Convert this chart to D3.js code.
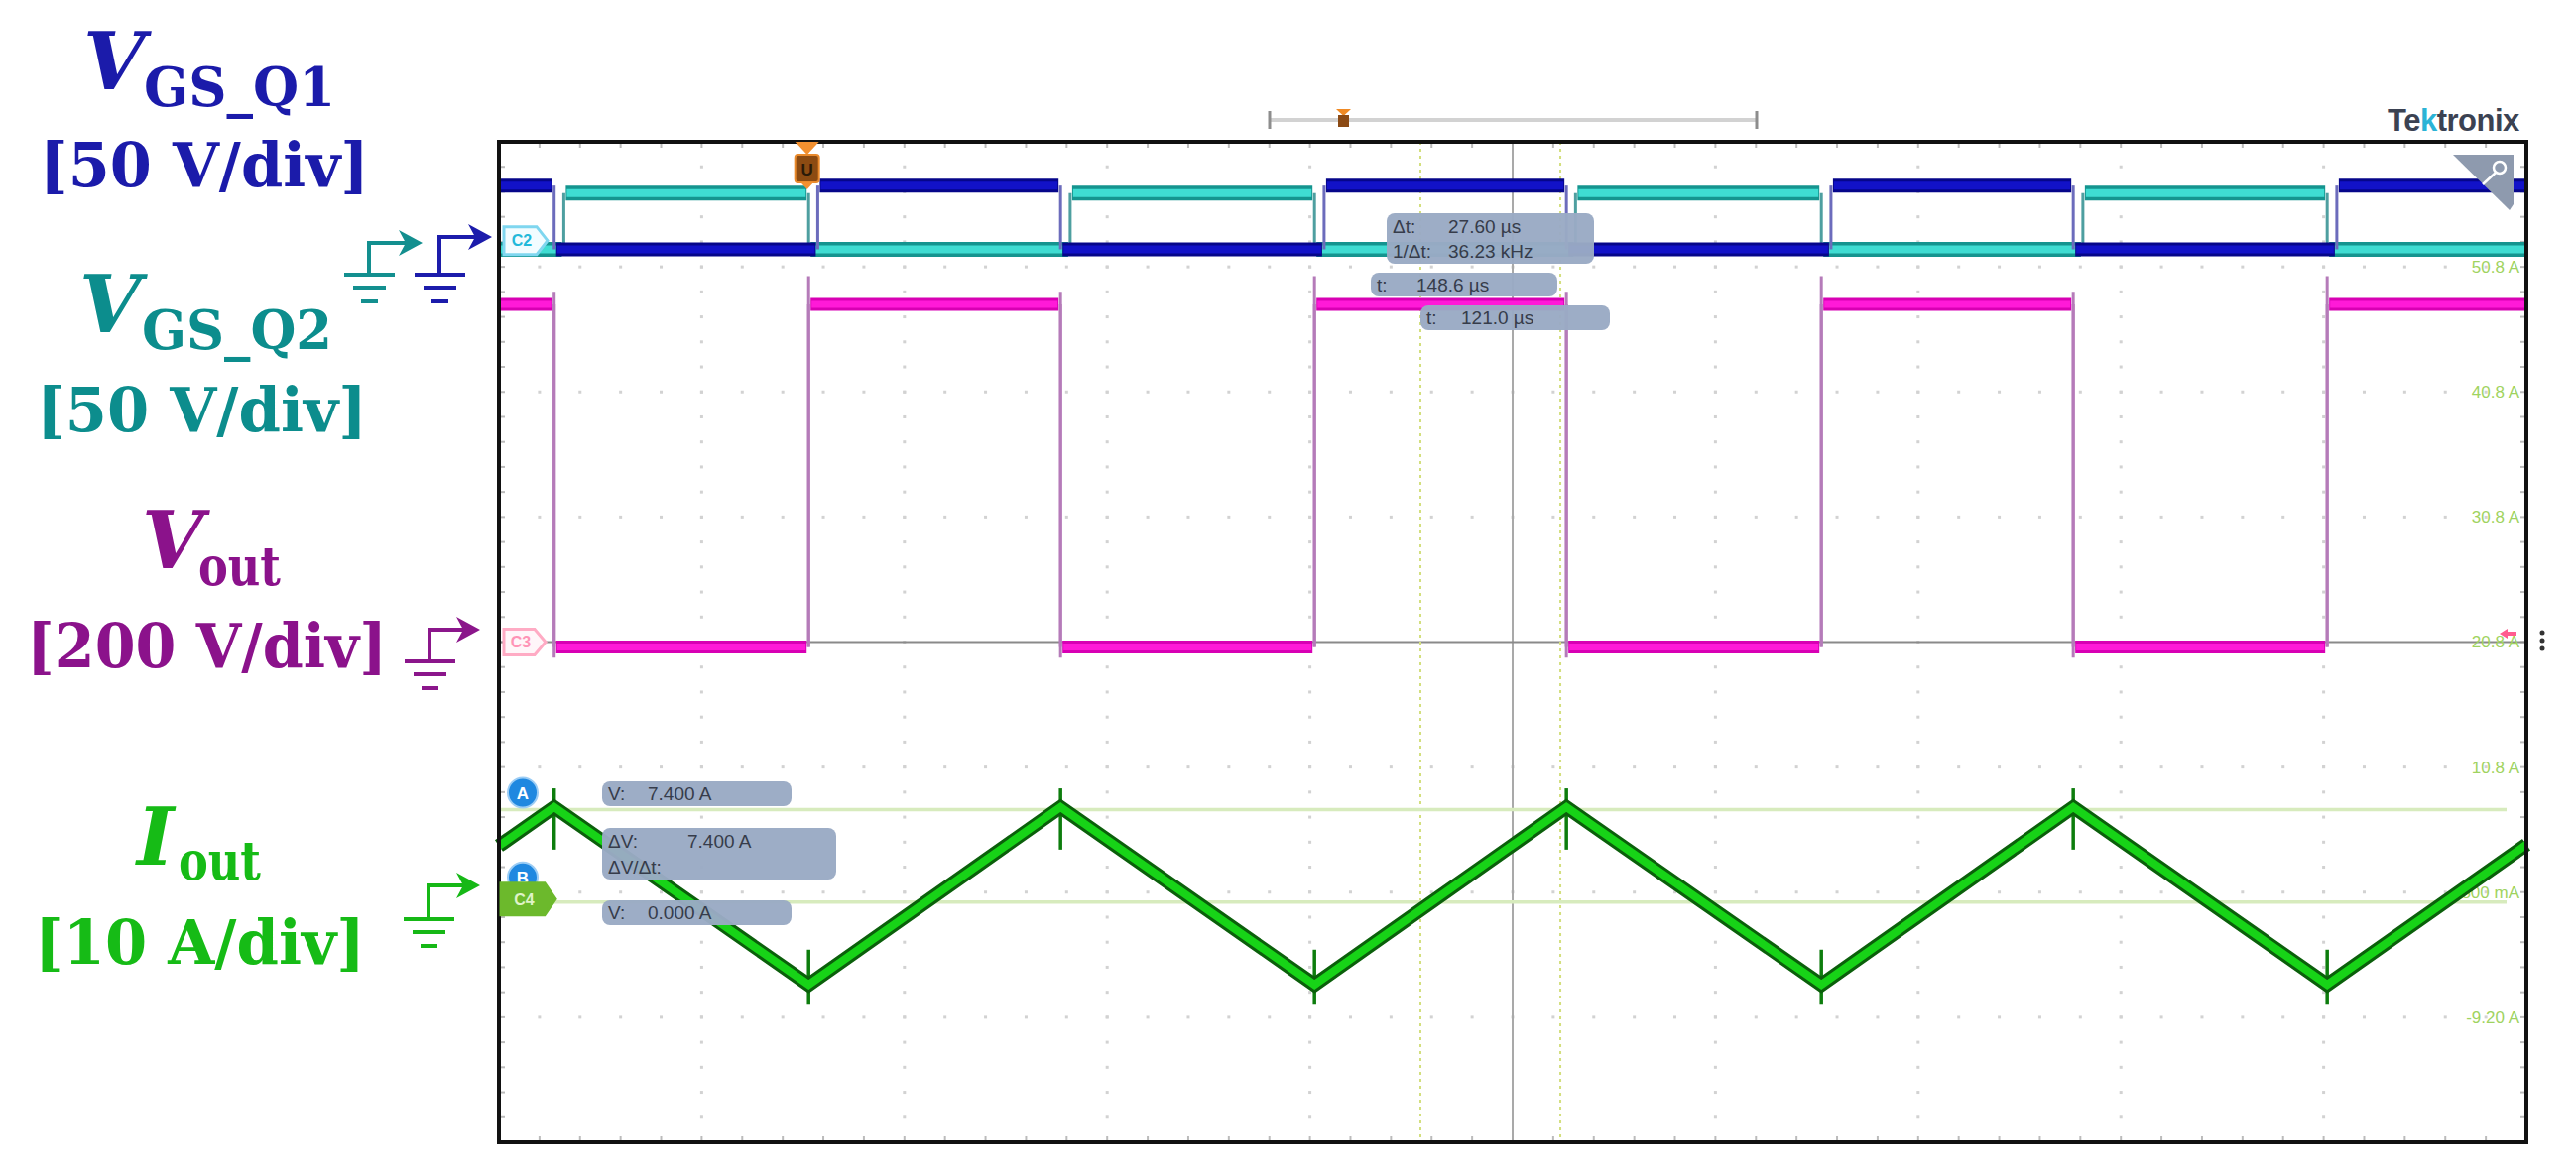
<!DOCTYPE html>
<html><head><meta charset="utf-8">
<script src="https://cdn.jsdelivr.net/npm/d3@7"></script>
<style>html,body{margin:0;padding:0;background:#fff;overflow:hidden}svg{display:block}</style>
</head><body>
<svg id="chart" width="2597" height="1183"></svg>
<script>
// ---------------- DATA ----------------
// time axis: 10 divisions x 40 µs
const timeDomain = [0, 400];
const timeGrid = [0, 40, 80, 120, 160, 200, 240, 280, 320, 360, 400];
// Iout scale labels shown at right (A)
const currentTicks = [50.8, 40.8, 30.8, 20.8, 10.8, 0.8, -9.2];
const currentTickLabels = ["50.8 A", "40.8 A", "30.8 A", "20.8 A", "10.8 A", "800 mA", "-9.20 A"];

// VGS_Q1 (V): switching instants (µs) and level held in each interval
const q1Times  = [0, 10.9, 62.9, 110.8, 162.8, 210.6, 262.8, 310.6, 362.6, 400];
const q1Levels = [21, -4.5, 21, -4.5, 21, -4.5, 21, -4.5, 21];
// VGS_Q2 (V)
const q2Times  = [0, 12.8, 61.1, 112.7, 160.9, 212.4, 260.9, 312.5, 360.7, 400];
const q2Levels = [-4.5, 18, -4.5, 18, -4.5, 18, -4.5, 18, -4.5];
// Vout (V)
const voutTimes  = [0, 10.9, 61.1, 110.8, 160.9, 210.6, 260.9, 310.6, 360.7, 400];
const voutLevels = [540, -8, 540, -8, 540, -8, 540, -8, 540];
const voutEdgeMax = [560, 585, 560, 585, 560, 585, 560, 585];
const voutEdgeMin = [-25, -8, -25, -8, -25, -8, -25, -8];
// Iout (A): triangle vertices
const iTimes  = [0, 10.9, 61.1, 110.8, 160.9, 210.6, 260.9, 310.6, 360.7, 400];
const iValues = [4.5, 7.6, -6.6, 7.6, -6.6, 7.6, -6.6, 7.6, -6.6, 4.6];
const iSpikeHigh = [9.1, -3.8, 9.1, -3.8, 9.1, -3.8, 9.1, -3.8];
const iSpikeLow  = [4.2, -8.2, 4.2, -8.2, 4.2, -8.2, 4.2, -8.2];

// trigger position on screen (µs) and cursors (relative to trigger)
const triggerTime = 60.8;
const timeCursors = [121.0, 148.6];     // µs after trigger
const currentCursors = [7.4, 0.0];      // A

const readTop = [["Δt:", "27.60 µs"], ["1/Δt:", "36.23 kHz"]];
const readT1 = ["t:", "148.6 µs"];
const readT2 = ["t:", "121.0 µs"];
const readVA = ["V:", "7.400 A"];
const readDV = [["ΔV:", "7.400 A"], ["ΔV/Δt:", ""]];
const readVB = ["V:", "0.000 A"];

// ---------------- LAYOUT ----------------
const svg = d3.select("#chart");
const box = {l: 503, r: 2547, t: 143, b: 1152};
const x = d3.scaleLinear().domain(timeDomain).range([box.l, box.r]);
const yDiv = d3.scaleLinear().domain([0, 8]).range([box.b, box.t]);
const yI = d3.scaleLinear().domain([-19.2, 60.8]).range([box.b, box.t]);
const yGate = d3.scaleLinear().domain([0, 50]).range([yDiv(7.23), yDiv(8.23)]);
const yVout = d3.scaleLinear().domain([0, 200]).range([yDiv(4), yDiv(5)]);

svg.append("rect").attr("width", 2597).attr("height", 1183).attr("fill", "#fff");

// ---- grid ----
const grid = svg.append("g");
const minorY = d3.range(0, 8.0001, 0.2);
timeGrid.slice(1, -1).forEach(t => {
  if (t === 200) return;
  minorY.forEach(d => grid.append("rect").attr("x", x(t) - 1.5).attr("y", yDiv(d) - 1.5)
    .attr("width", 3).attr("height", 3).attr("fill", "#d2d2d2"));
});
const minorT = d3.range(0, 400.001, 8);
d3.range(1, 8).forEach(j => {
  if (j === 4) return;
  minorT.forEach(t => grid.append("rect").attr("x", x(t) - 1.5).attr("y", yDiv(j) - 1.5)
    .attr("width", 3).attr("height", 3).attr("fill", "#d2d2d2"));
});
// border minor ticks
minorT.forEach(t => {
  grid.append("line").attr("x1", x(t)).attr("x2", x(t)).attr("y1", box.t).attr("y2", box.t + 6).attr("stroke", "#bbb").attr("stroke-width", 2);
  grid.append("line").attr("x1", x(t)).attr("x2", x(t)).attr("y1", box.b - 6).attr("y2", box.b).attr("stroke", "#bbb").attr("stroke-width", 2);
});
minorY.forEach(d => {
  grid.append("line").attr("x1", box.l).attr("x2", box.l + 6).attr("y1", yDiv(d)).attr("y2", yDiv(d)).attr("stroke", "#bbb").attr("stroke-width", 2);
  grid.append("line").attr("x1", box.r - 6).attr("x2", box.r).attr("y1", yDiv(d)).attr("y2", yDiv(d)).attr("stroke", "#bbb").attr("stroke-width", 2);
});
// center crosshair
grid.append("line").attr("x1", x(200)).attr("x2", x(200)).attr("y1", box.t).attr("y2", box.b).attr("stroke", "#a9a9a9").attr("stroke-width", 2);
grid.append("line").attr("x1", box.l).attr("x2", box.r).attr("y1", yDiv(4)).attr("y2", yDiv(4)).attr("stroke", "#8a8a8a").attr("stroke-width", 2);

// right side current scale labels
svg.append("g").selectAll("text").data(currentTicks).join("text")
  .attr("x", 2540).attr("y", d => yI(d)).attr("dy", "0.35em")
  .attr("text-anchor", "end").attr("font-family", "Liberation Sans, Arial, sans-serif")
  .attr("font-size", 17).attr("fill", "#9fd35f")
  .text((d, i) => currentTickLabels[i]);

// ---- cursors ----
timeCursors.forEach(t => svg.append("line").attr("x1", x(triggerTime + t)).attr("x2", x(triggerTime + t)).attr("y1", box.t).attr("y2", box.b)
  .attr("stroke", "#d3df7e").attr("stroke-width", 2).attr("stroke-dasharray", "3,4"));
currentCursors.forEach(v => svg.append("line").attr("x1", box.l).attr("x2", box.r - 20).attr("y1", yI(v)).attr("y2", yI(v))
  .attr("stroke", "#d7ebbd").attr("stroke-width", 3.5));

// ---- traces ----
function stepTrace(times, levels, ys, outer, inner, wo, wi, edgeColor) {
  const g = svg.append("g");
  for (let i = 1; i < levels.length; i++) {
    g.append("line").attr("x1", x(times[i])).attr("x2", x(times[i]))
      .attr("y1", ys(levels[i - 1])).attr("y2", ys(levels[i]))
      .attr("stroke", edgeColor).attr("stroke-width", 3);
  }
  levels.forEach((v, i) => {
    g.append("line").attr("x1", x(times[i]) + (i ? 2 : 0)).attr("x2", x(times[i + 1]) - (i < levels.length - 1 ? 2 : 0))
      .attr("y1", ys(v)).attr("y2", ys(v)).attr("stroke", outer).attr("stroke-width", wo);
    g.append("line").attr("x1", x(times[i]) + (i ? 3 : 0)).attr("x2", x(times[i + 1]) - (i < levels.length - 1 ? 3 : 0))
      .attr("y1", ys(v)).attr("y2", ys(v)).attr("stroke", inner).attr("stroke-width", wi);
  });
  return g;
}
// Vout
const gv = svg.append("g");
voutEdgeMax.forEach((m, i) => {
  gv.append("line").attr("x1", x(voutTimes[i + 1])).attr("x2", x(voutTimes[i + 1]))
    .attr("y1", yVout(voutEdgeMin[i])).attr("y2", yVout(m)).attr("stroke", "#b57bb9").attr("stroke-width", 3);
});
stepTrace(voutTimes, voutLevels, yVout, "#d800b4", "#ff1ad8", 13, 7, "#b57bb9");
// VGS_Q2 (cyan)
stepTrace(q2Times, q2Levels, yGate, "#15948f", "#3fdcd2", 15, 8, "#4e9fa0");
// VGS_Q1 (blue)
stepTrace(q1Times, q1Levels, yGate, "#06068a", "#1212c8", 14, 8, "#6c6cbc");

// Iout
const iPts = iTimes.map((t, i) => [t, iValues[i]]);
const iLine = d3.line().x(d => x(d[0])).y(d => yI(d[1]));
iSpikeHigh.forEach((h, i) => svg.append("line").attr("x1", x(iTimes[i + 1])).attr("x2", x(iTimes[i + 1]))
  .attr("y1", yI(h)).attr("y2", yI(iSpikeLow[i])).attr("stroke", "#0d7d0d").attr("stroke-width", 3.5));
svg.append("path").attr("d", iLine(iPts)).attr("fill", "none").attr("stroke", "#0b5f0b").attr("stroke-width", 14).attr("stroke-linejoin", "miter");
svg.append("path").attr("d", iLine(iPts)).attr("fill", "none").attr("stroke", "#17d317").attr("stroke-width", 8).attr("stroke-linejoin", "miter");

// ---- box border ----
svg.append("rect").attr("x", box.l).attr("y", box.t).attr("width", box.r - box.l).attr("height", box.b - box.t)
  .attr("fill", "none").attr("stroke", "#111").attr("stroke-width", 4);

// ---- channel tags on left edge ----
function tag(cx, cy, w, h, fill, stroke, label, tcol) {
  const p = `M${cx},${cy - h / 2} H${cx + w - 11} L${cx + w},${cy} L${cx + w - 11},${cy + h / 2} H${cx} Z`;
  svg.append("path").attr("d", p).attr("fill", fill).attr("stroke", stroke).attr("stroke-width", 3);
  svg.append("text").attr("x", cx + (w - 8) / 2).attr("y", cy).attr("dy", "0.36em").attr("text-anchor", "middle")
    .attr("font-family", "Liberation Sans, Arial, sans-serif").attr("font-size", 16).attr("font-weight", "bold")
    .attr("fill", tcol).text(label);
}
tag(508, yGate(-1), 44, 28, "#f2fcff", "#7fd6ef", "C2", "#22b9da");
tag(508, yVout(0), 42, 26, "#fff6f9", "#ffabc4", "C3", "#ff94b6");
// cursor circles
function circ(cx, cy, label) {
  svg.append("circle").attr("cx", cx).attr("cy", cy).attr("r", 15).attr("fill", "#1f88e0").attr("stroke", "#9ccdf5").attr("stroke-width", 2);
  svg.append("text").attr("x", cx).attr("y", cy).attr("dy", "0.36em").attr("text-anchor", "middle")
    .attr("font-family", "Liberation Sans, Arial, sans-serif").attr("font-size", 17).attr("font-weight", "bold").attr("fill", "#fff").text(label);
}
circ(527, yI(currentCursors[1]) - 25, "B");
tag(505, yI(currentCursors[1]) - 3, 55, 32, "#6cb92c", "#6cb92c", "C4", "#dff3c8");
circ(527, yI(currentCursors[0]) - 17, "A");

// ---- readouts ----
function readout(x0, y0, w, h, rows, valX) {
  svg.append("rect").attr("x", x0).attr("y", y0).attr("width", w).attr("height", h).attr("rx", 8)
    .attr("fill", "#9aaac4").attr("opacity", 0.97);
  rows.forEach((r, i) => {
    const by = y0 + (rows.length === 1 ? h / 2 : h * (i + 0.5) / rows.length);
    svg.append("text").attr("x", x0 + 6).attr("y", by).attr("dy", "0.36em")
      .attr("font-family", "Liberation Sans, Arial, sans-serif").attr("font-size", 19).attr("fill", "#363c4a").text(r[0]);
    svg.append("text").attr("x", x0 + valX).attr("y", by).attr("dy", "0.36em")
      .attr("font-family", "Liberation Sans, Arial, sans-serif").attr("font-size", 19).attr("fill", "#363c4a").text(r[1]);
  });
}
readout(1398, 215, 209, 51, readTop, 62);
readout(1382, 275, 188, 24, [readT1], 46);
readout(1432, 308, 191, 25, [readT2], 41);
readout(607, 788, 191, 25, [readVA], 46);
readout(607, 835, 236, 52, readDV, 86);
readout(607, 908, 191, 25, [readVB], 46);

// ---- top decorations ----
// record bar
svg.append("line").attr("x1", 1280).attr("x2", 1771).attr("y1", 121).attr("y2", 121).attr("stroke", "#d2d2d2").attr("stroke-width", 4);
[1280, 1771].forEach(v => svg.append("line").attr("x1", v).attr("x2", v).attr("y1", 112).attr("y2", 130).attr("stroke", "#8d8d8d").attr("stroke-width", 3));
svg.append("path").attr("d", "M1347,110 L1362,110 L1354.5,117 Z").attr("fill", "#f08a24");
svg.append("rect").attr("x", 1349).attr("y", 116).attr("width", 11).attr("height", 12).attr("fill", "#8b4a14");
// trigger marker
const tx = x(triggerTime);
svg.append("path").attr("d", `M${tx - 12},${box.t} L${tx + 12},${box.t} L${tx},${box.t + 13} Z`).attr("fill", "#f29030");
svg.append("rect").attr("x", tx - 12).attr("y", box.t + 13).attr("width", 24).attr("height", 28).attr("rx", 3).attr("fill", "#8c4b12").attr("stroke", "#e98a2c").attr("stroke-width", 2);
svg.append("text").attr("x", tx).attr("y", box.t + 28).attr("dy", "0.36em").attr("text-anchor", "middle")
  .attr("font-family", "Liberation Sans, Arial, sans-serif").attr("font-size", 17).attr("font-weight", "bold").attr("fill", "#2a1a08").text("U");
svg.append("path").attr("d", `M${tx - 6.5},${box.t + 41} L${tx + 6.5},${box.t + 41} L${tx},${box.t + 48} Z`).attr("fill", "#f29030");
// Tektronix logo
const logo = svg.append("text").attr("x", 2407).attr("y", 132).attr("font-family", "Liberation Sans, Arial, sans-serif")
  .attr("font-size", 31).attr("font-weight", "bold").attr("fill", "#3b4252").attr("letter-spacing", -0.5);
logo.append("tspan").text("Te");
logo.append("tspan").attr("fill", "#2bb3d6").text("k");
logo.append("tspan").text("tronix");
// badge top-right
svg.append("path").attr("d", "M2473,156 L2534,156 L2534,206 L2530,212 Z").attr("fill", "#8e9aae");
svg.append("circle").attr("cx", 2520).attr("cy", 169).attr("r", 6).attr("fill", "none").attr("stroke", "#fff").attr("stroke-width", 2.5);
svg.append("line").attr("x1", 2516).attr("y1", 174).attr("x2", 2503).attr("y2", 186).attr("stroke", "#fff").attr("stroke-width", 2.5);
// right side markers
svg.append("path").attr("d", "M2520,639 L2528,634 L2528,637 L2537,637 L2537,641 L2528,641 L2528,644 Z").attr("fill", "#ff5c8f");
[638, 646, 654].forEach(v => svg.append("circle").attr("cx", 2563).attr("cy", v).attr("r", 2.5).attr("fill", "#333"));

// ---- ground arrows outside left ----
function groundArrow(xs, ya, xt, yg, col) {
  const g = svg.append("g").attr("stroke", col).attr("stroke-width", 4).attr("fill", "none");
  g.append("path").attr("d", `M${xs},${yg} V${ya} H${xt - 12}`);
  svg.append("path").attr("d", `M${xt},${ya} L${xt - 24},${ya - 13} L${xt - 17},${ya} L${xt - 24},${ya + 13} Z`).attr("fill", col);
  g.append("line").attr("x1", xs - 25).attr("x2", xs + 26).attr("y1", yg).attr("y2", yg);
  g.append("line").attr("x1", xs - 16).attr("x2", xs + 17).attr("y1", yg + 13).attr("y2", yg + 13);
  g.append("line").attr("x1", xs - 8).attr("x2", xs + 9).attr("y1", yg + 27).attr("y2", yg + 27);
}
groundArrow(372, 245, 426, 277, "#138f8f");
groundArrow(443, 239, 496, 277, "#1c1cab");
groundArrow(433, 635, 484, 667, "#8b168b");
groundArrow(432, 893, 484, 927, "#16b816");

// ---- channel titles ----
const serif = "DejaVu Serif, serif";
function title(col, bigX, bigY, big, subX, subY, sub, subLen, divX, divY, divText, divLen) {
  svg.append("text").attr("x", bigX).attr("y", bigY).attr("font-family", serif).attr("font-style", "italic")
    .attr("font-weight", "bold").attr("font-size", 80).attr("fill", col).text(big);
  svg.append("text").attr("x", subX).attr("y", subY).attr("font-family", serif).attr("font-weight", "bold")
    .attr("font-size", 55).attr("fill", col).attr("textLength", subLen).attr("lengthAdjust", "spacingAndGlyphs").text(sub);
  svg.append("text").attr("x", divX).attr("y", divY).attr("font-family", serif).attr("font-weight", "bold")
    .attr("font-size", 62).attr("fill", col).attr("textLength", divLen).attr("lengthAdjust", "spacingAndGlyphs").text(divText);
}
title("#1b1baa", 84, 90, "V", 145, 107, "GS_Q1", 193, 40, 188, "[50 V/div]", 332);
title("#0c8d8d", 80, 335, "V", 143, 352, "GS_Q2", 192, 37, 435, "[50 V/div]", 333);
title("#8b128b", 143, 573, "V", 200, 590, "out", 83, 27, 673, "[200 V/div]", 363);
title("#16bb16", 138, 872, "I", 180, 887, "out", 83, 35, 972, "[10 A/div]", 333);
</script>
</body></html>
